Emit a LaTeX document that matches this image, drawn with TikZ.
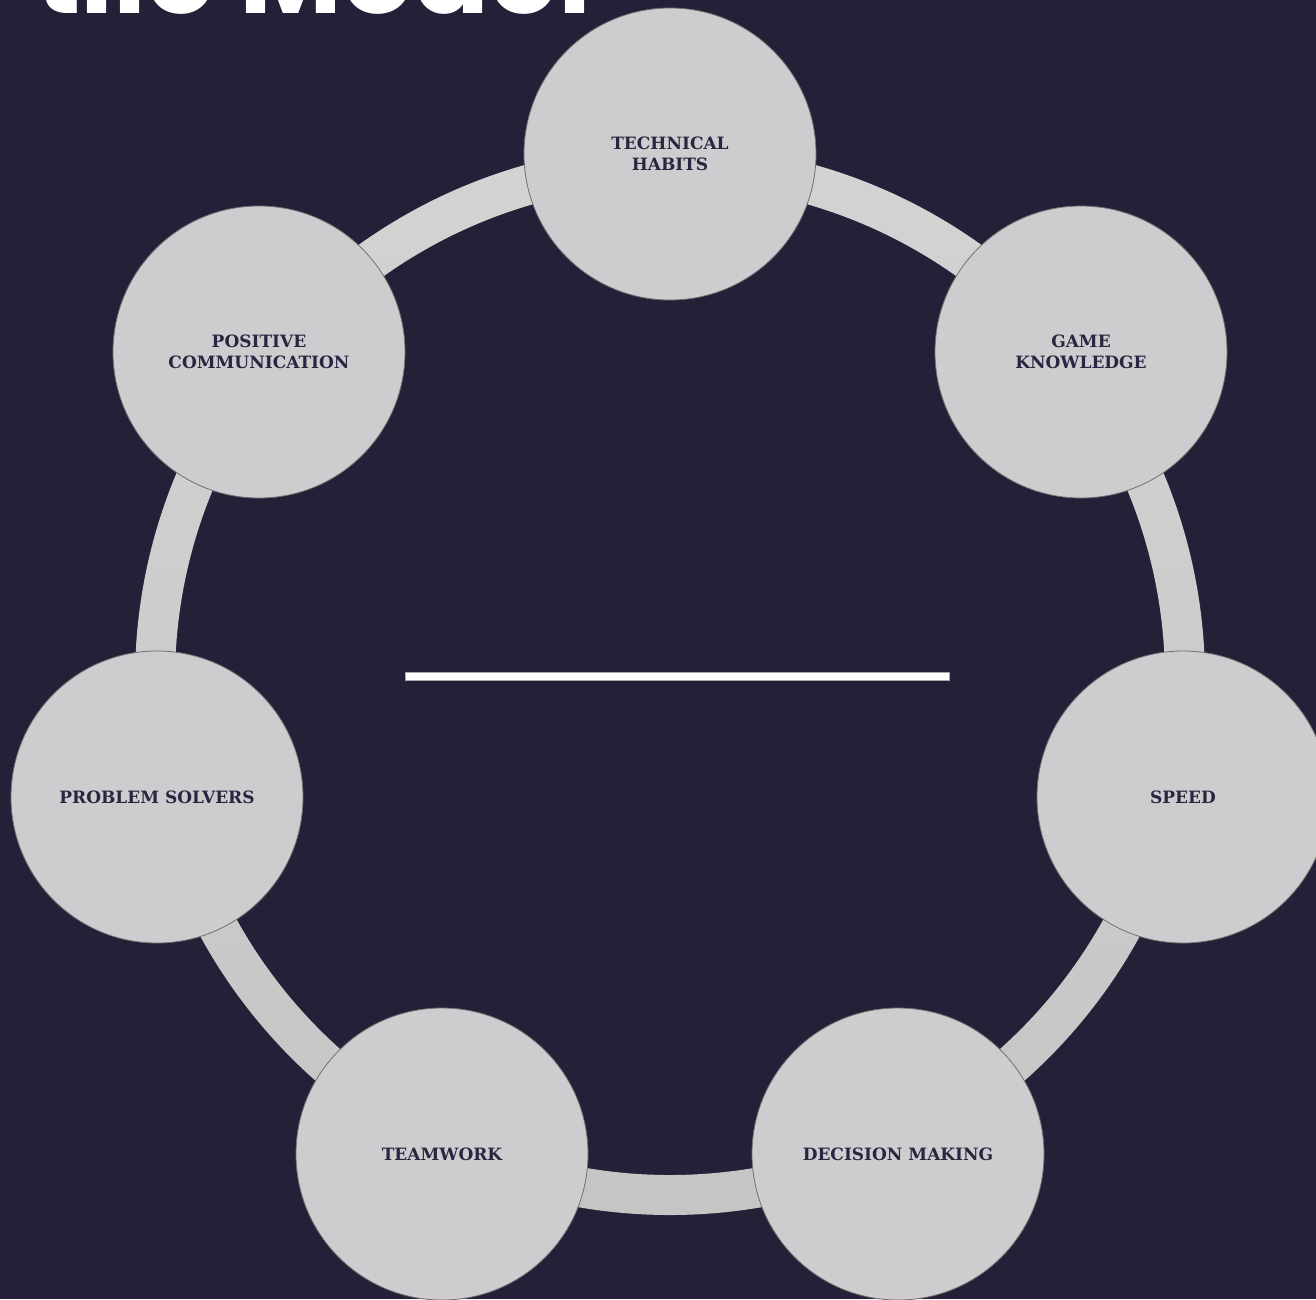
\documentclass[tikz,border=0pt]{standalone}
\usepackage{fontspec}
\setmainfont{DejaVu Serif}
\newfontfamily\titlefont{Poppins}
\definecolor{bg}{HTML}{252038}
\definecolor{bubble}{HTML}{CECCCE}
\definecolor{bubbleline}{HTML}{707070}
\definecolor{ink}{HTML}{2A2540}
\definecolor{ringtop}{HTML}{D3D3D3}
\definecolor{ringbot}{HTML}{C5C5C5}
\begin{document}
\begin{tikzpicture}[x=1pt,y=-1pt,
  bubble/.style={circle, draw=bubbleline, line width=0.8pt, fill=bubble,
    minimum size=292pt, inner sep=0pt, align=center, text=ink,
    font=\fontsize{17}{21}\selectfont\bfseries},
  divider/.style={draw=gray!70, fill=white, line width=0.6pt}]
\useasboundingbox (0,0) rectangle (1316,1299);
\clip (0,0) rectangle (1316,1299);
\fill[bg] (0,0) rectangle (1316,1299);
% title (cut at the top edge)
\node[anchor=base east, inner sep=0pt, text=white,
  font=\titlefont\bfseries\fontsize{112}{112}\selectfont] (title) at (592,13) {tile Model};
% ring
\coordinate (ctr) at (670,680);
\shade[top color=ringtop, bottom color=ringbot, even odd rule]
  (ctr) circle[radius=535] (ctr) circle[radius=495];
% divider
\filldraw[divider] (405,672) rectangle (949,680);
% bubbles
\node[bubble] (tech) at (670,154) {TECHNICAL\\HABITS};
\node[bubble] (game) at (1081,352) {GAME\\KNOWLEDGE};
\node[bubble] (speed) at (1183,797) {SPEED};
\node[bubble] (dec) at (898,1154) {DECISION MAKING};
\node[bubble] (team) at (442,1154) {TEAMWORK};
\node[bubble] (prob) at (157,797) {PROBLEM SOLVERS};
\node[bubble] (pos) at (259,352) {POSITIVE\\COMMUNICATION};
\end{tikzpicture}
\end{document}
